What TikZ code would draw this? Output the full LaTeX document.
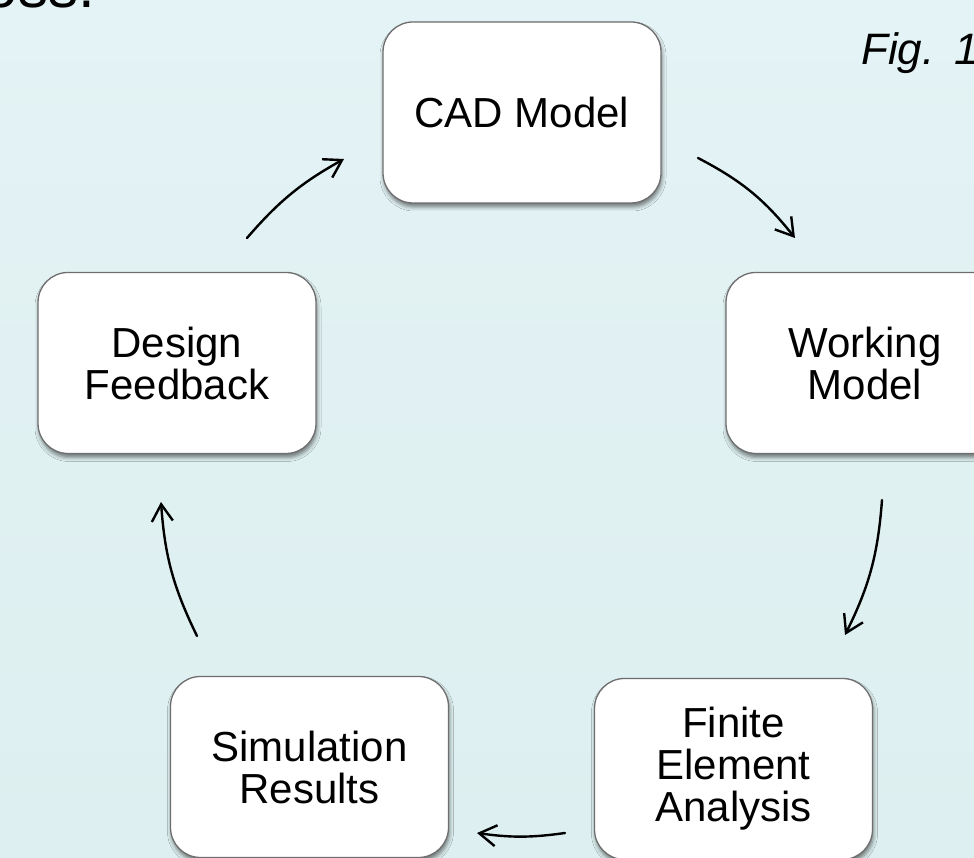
\documentclass[tikz,border=0pt]{standalone}
\usepackage{fontspec}
\setmainfont{Liberation Sans}
\usetikzlibrary{arrows.meta,shadows.blur}

\definecolor{bgtop}{RGB}{228,243,245}
\definecolor{bgbot}{RGB}{221,239,240}
\definecolor{boxline}{RGB}{110,110,110}

\begin{document}
\begin{tikzpicture}[x=1pt,y=1pt,
  stage/.style={draw=boxline, line width=1.3pt, fill=white,
    rounded corners=30pt, minimum width=278pt, minimum height=181pt,
    inner sep=0pt, align=center, font=\fontsize{42}{42}\selectfont,
    blur shadow={shadow xshift=1pt, shadow yshift=-4pt,
      shadow blur radius=4pt, shadow opacity=50}},
  flow/.style={line width=2.4pt, line cap=round,
    -{Straight Barb[length=17pt,width=21pt]}},
  caption/.style={inner sep=0pt, font=\itshape\fontsize{44}{44}\selectfont}]

\useasboundingbox (0,0) rectangle (974,858);
\shade[top color=bgtop, bottom color=bgbot] (0,0) rectangle (974,858);

% heading fragment and figure tag
\node[anchor=base east, inner sep=0pt, font=\fontsize{60}{60}\selectfont]
  (heading) at (95,850) {oss.};
\node[caption, anchor=base west] (figtag) at (861,793) {Fig.\hspace{20pt}1};

% the five stages of the cycle
\node[stage] (cad)  at (522,745.5) {CAD Model};
\node[stage] (work) at (865,495)   {Working\\Model};
\node[stage] (fea)  at (733.5,89)  {Finite\\Element\\Analysis};
\node[stage] (sim)  at (309.5,91)  {Simulation\\Results};
\node[stage] (feed) at (177,495)   {Design\\Feedback};

% arrow end points in the gaps between the stages
\coordinate (cw-s) at (698,700);  \coordinate (cw-e) at (795,620);
\coordinate (wf-s) at (882,358);  \coordinate (wf-e) at (845,223);
\coordinate (fs-s) at (565,25);   \coordinate (fs-e) at (477,25);
\coordinate (sd-s) at (197,222);  \coordinate (sd-e) at (161,356);
\coordinate (dc-s) at (247,620);  \coordinate (dc-e) at (344,699);

\draw[flow] (cw-s) to[bend left=12] (cw-e);
\draw[flow] (wf-s) to[bend left=11] (wf-e);
\draw[flow] (fs-s) to[bend left=8]  (fs-e);
\draw[flow] (sd-s) to[bend left=11] (sd-e);
\draw[flow] (dc-s) to[bend left=10] (dc-e);
\end{tikzpicture}
\end{document}
